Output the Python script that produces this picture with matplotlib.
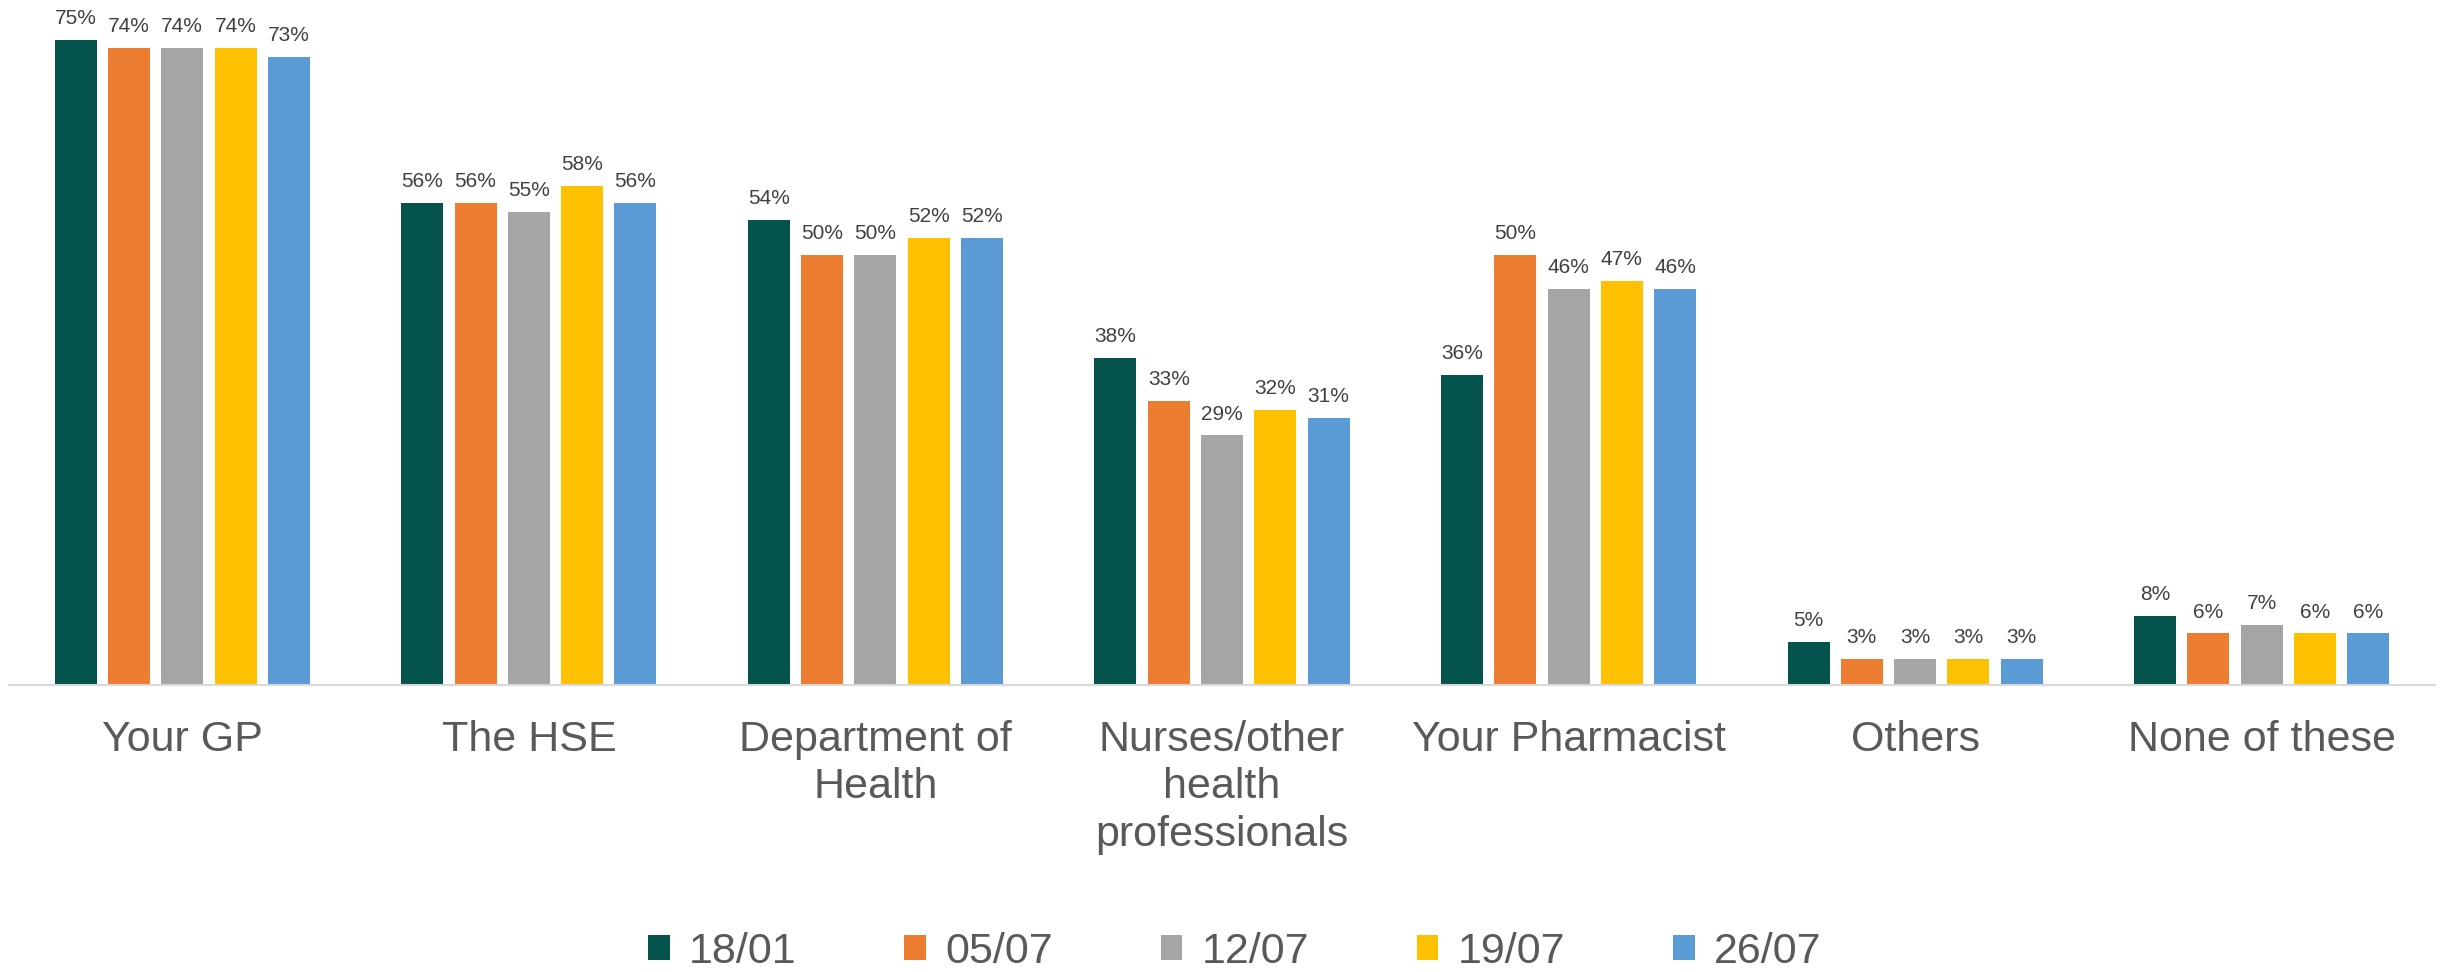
import matplotlib
matplotlib.use("Agg")
import matplotlib.pyplot as plt
import numpy as np

plt.rcParams['font.family'] = ['Liberation Sans', 'DejaVu Sans']

categories = ["Your GP", "The HSE", "Department of\nHealth",
              "Nurses/other\nhealth\nprofessionals", "Your Pharmacist",
              "Others", "None of these"]
series_names = ["18/01", "05/07", "12/07", "19/07", "26/07"]
s_1801 = [75, 56, 54, 38, 36, 5, 8]
s_0507 = [74, 56, 50, 33, 50, 3, 6]
s_1207 = [74, 55, 50, 29, 46, 3, 7]
s_1907 = [74, 58, 52, 32, 47, 3, 6]
s_2607 = [73, 56, 52, 31, 46, 3, 6]
series = [s_1801, s_0507, s_1207, s_1907, s_2607]
colors = ["#04534C", "#ED7D31", "#A5A5A5", "#FFC000", "#5B9BD5"]

W, H = 2445, 972
fig = plt.figure(figsize=(W / 100, H / 100), dpi=100)
ax_left, ax_right = 9, 2435
ax_bottom_px = 685
ax = fig.add_axes([ax_left / W, 1 - ax_bottom_px / H,
                   (ax_right - ax_left) / W, ax_bottom_px / H])

x = np.arange(len(categories))
step = 0.1538
bw = 0.1212
for i, (vals, col, name) in enumerate(zip(series, colors, series_names)):
    bars = ax.bar(x + (i - 2) * step, vals, width=bw, color=col, label=name,
                  edgecolor='none', zorder=2)
    ax.bar_label(bars, labels=[f"{v}%" for v in vals], padding=8.5,
                 fontsize=15, color="#404040")

ax.set_xlim(-0.5, len(categories) - 0.5)
ax.set_ylim(0, 79.6)
ax.set_yticks([])
for s in ['top', 'right', 'left']:
    ax.spines[s].set_visible(False)
ax.spines['bottom'].set_color('#D9D9D9')
ax.spines['bottom'].set_linewidth(1.5)
ax.spines['bottom'].set_zorder(3)
ax.set_xticks(x)
ax.set_xticklabels(categories, fontsize=31, color="#595959")
ax.tick_params(axis='x', length=0, pad=25)
for lab in ax.get_xticklabels():
    lab.set_linespacing(1.25)

handles, labels = ax.get_legend_handles_labels()
fig.legend(handles, labels, loc='center', bbox_to_anchor=(0.505, 0.0206),
           ncol=5, frameon=False, fontsize=31, labelcolor="#595959",
           handlelength=0.504, handleheight=0.504, handletextpad=0.45,
           columnspacing=2.5, borderpad=0, borderaxespad=0)

fig.savefig("out.png", dpi=100)
